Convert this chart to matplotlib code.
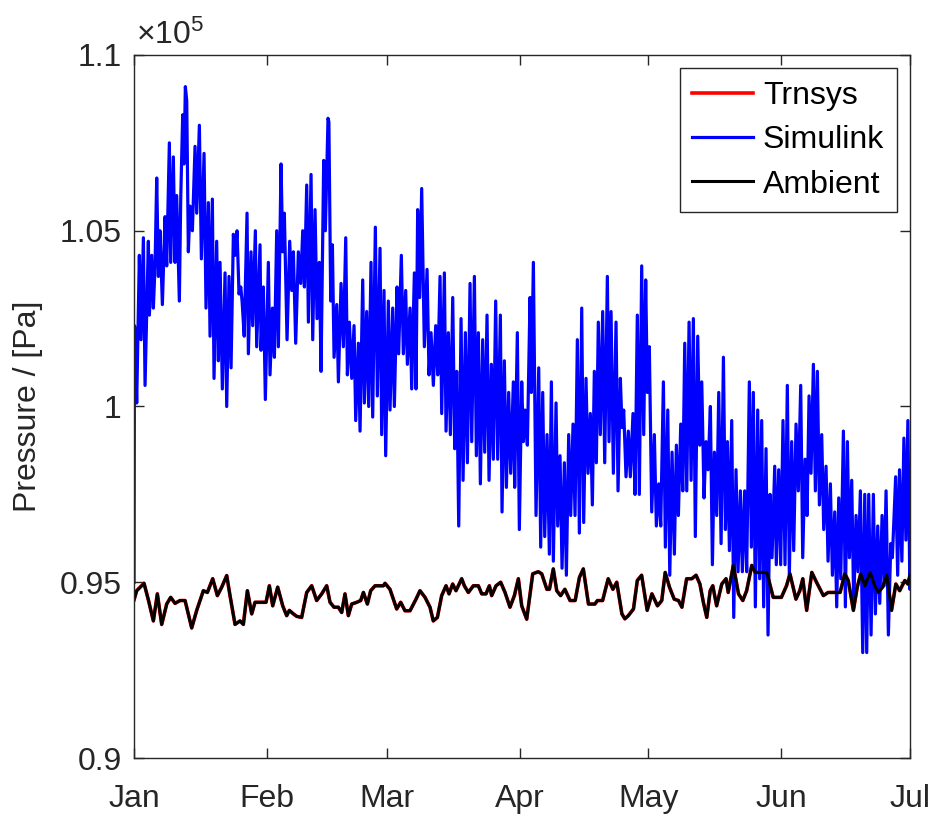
import matplotlib
matplotlib.use('Agg')
import matplotlib.pyplot as plt

plt.rcParams['font.family'] = ['Liberation Sans', 'DejaVu Sans']
plt.rcParams['mathtext.fontset'] = 'custom'
plt.rcParams['mathtext.rm'] = 'Liberation Sans'

# month ticks (day of year, 2019-like non-leap year)
month_days = [0, 31, 59, 90, 120, 151, 181]
month_names = ['Jan', 'Feb', 'Mar', 'Apr', 'May', 'Jun', 'Jul']
ytick_vals = [0.9e5, 0.95e5, 1.0e5, 1.05e5, 1.1e5]
ytick_labels = ['0.9', '0.95', '1', '1.05', '1.1']

# Simulink pressure, (day, pressure in 1e5 Pa)
simulink = [
    # January
    (0, 0.950), (0.1, 1.023), (0.23, 1.022), (0.62, 1.001), (1.24, 1.043), (1.63, 1.019),
    (2.18, 1.048), (2.57, 1.006), (3.34, 1.047), (3.58, 1.026), (4.12, 1.043), (4.51, 1.028),
    (4.90, 1.040), (5.29, 1.065), (5.68, 1.037), (6.06, 1.050), (6.61, 1.029), (7.23, 1.054),
    (7.62, 1.040), (8.24, 1.075), (8.55, 1.041), (9.17, 1.071), (9.56, 1.041), (9.95, 1.060),
    (10.57, 1.030), (10.89, 1.059), (11.35, 1.083), (11.66, 1.069), (11.97, 1.091), (12.29, 1.087),
    (12.67, 1.044), (13.06, 1.057), (13.61, 1.050), (14.23, 1.074), (14.62, 1.055), (15.24, 1.080),
    (15.71, 1.042), (16.33, 1.072), (16.79, 1.028), (17.34, 1.058), (17.73, 1.020), (18.27, 1.059),
    (18.66, 1.008), (19.28, 1.047), (19.67, 1.013), (20.06, 1.041), (20.60, 1.005), (21.23, 1.038),
    (21.62, 1.000), (22.16, 1.037), (22.63, 1.011), (23.17, 1.049), (23.56, 1.043), (24.03, 1.050),
    (24.49, 1.032), (24.9, 1.034), (25.2, 1.030), (25.7, 1.020), (26.36, 1.055), (26.67, 1.015),
    (27.29, 1.044), (27.68, 1.023), (28.30, 1.050), (28.61, 1.017), (29.39, 1.046), (29.62, 1.016),
    (30.17, 1.034), (30.63, 1.002),
    # February
    (31.33, 1.041), (31.72, 1.009), (32.27, 1.028), (32.74, 1.014), (33.28, 1.050), (33.67, 1.017),
    (34.29, 1.069), (34.68, 1.044), (35.06, 1.055), (35.69, 1.019), (36.31, 1.047), (36.78, 1.033),
    (37.17, 1.044), (37.71, 1.018), (38.33, 1.044), (38.88, 1.035), (39.35, 1.050), (39.74, 1.034),
    (40.28, 1.063), (40.67, 1.024), (41.29, 1.066), (41.68, 1.019), (42.22, 1.056), (42.69, 1.025),
    (43.23, 1.041), (43.62, 1.010), (44.24, 1.070), (44.63, 1.050), (45.25, 1.082), (45.45, 1.081),
    (45.88, 1.030), (46.27, 1.046), (46.66, 1.014), (47.28, 1.029), (47.67, 1.007), (48.29, 1.035),
    (48.83, 1.017), (49.38, 1.048), (49.77, 1.009), (50.23, 1.024), (50.78, 1.008), (51.32, 1.023),
    (51.71, 0.996), (52.33, 1.018), (52.72, 0.993), (53.34, 1.036), (53.73, 1.001), (54.27, 1.027),
    (54.74, 1.000), (55.28, 1.041), (55.67, 0.997), (56.29, 1.051), (56.76, 1.003), (57.38, 1.045),
    (57.77, 0.992), (58.31, 1.033), (58.70, 0.986),
    # March
    (59.32, 1.030), (59.71, 0.999), (60.34, 1.028), (60.72, 1.000), (61.35, 1.034), (61.73, 1.015),
    (62.35, 1.043), (62.82, 1.015), (63.37, 1.033), (63.76, 1.012), (64.38, 1.028), (64.77, 1.005),
    (65.39, 1.038), (65.78, 1.005), (66.16, 1.056), (66.63, 1.031), (67.1, 1.062), (67.72, 1.017),
    (68.35, 1.039), (68.81, 1.009), (69.28, 1.021), (69.82, 1.006), (70.37, 1.023), (70.84, 1.009),
    (71.38, 1.037), (71.77, 0.998), (72.39, 1.038), (72.78, 0.993), (73.32, 1.021), (73.79, 0.992),
    (74.34, 1.031), (74.80, 0.988), (75.27, 1.010), (75.74, 0.966), (76.28, 1.025), (76.75, 0.979),
    (77.29, 1.021), (77.76, 0.984), (78.38, 1.035), (78.77, 0.990), (79.39, 1.037), (79.85, 0.986),
    (80.32, 1.021), (80.79, 0.978), (81.33, 1.019), (81.80, 0.987), (82.34, 1.026), (82.81, 0.979),
    (83.35, 1.012), (83.81, 0.985), (84.36, 1.030), (84.83, 0.985), (85.45, 1.026), (85.84, 0.970),
    (86.38, 1.013), (86.85, 0.977), (87.39, 1.004), (87.86, 0.981), (88.48, 1.007), (88.79, 0.977),
    (89.41, 1.021), (89.88, 0.965),
    # April
    (90.43, 1.007), (90.81, 0.990), (91.2, 0.999), (91.75, 0.989), (92.37, 1.031), (92.68, 1.004),
    (93.15, 1.041), (93.77, 0.969), (94.40, 1.011), (94.86, 0.960), (95.33, 1.004), (95.80, 0.963),
    (96.34, 0.992), (96.88, 0.958), (97.35, 1.007), (97.81, 0.956), (98.44, 1.001), (98.83, 0.966),
    (99.37, 0.986), (99.84, 0.954), (100.38, 0.984), (100.85, 0.952), (101.39, 0.992), (101.86, 0.969),
    (102.40, 0.995), (102.87, 0.969), (103.41, 1.019), (103.88, 0.964), (104.43, 1.028), (104.89, 0.967),
    (105.43, 1.008), (105.90, 0.981), (106.44, 0.998), (106.91, 0.972), (107.37, 1.010), (107.84, 0.984),
    (108.30, 1.024), (108.77, 0.992), (109.32, 1.027), (109.79, 0.984), (110.41, 1.037), (110.80, 0.990),
    (111.27, 1.027), (111.81, 0.981), (112.43, 1.024), (112.90, 0.976), (113.44, 1.008), (113.83, 0.994),
    (114.22, 0.999), (114.76, 0.980), (115.30, 0.993), (115.77, 0.980), (116.39, 0.998), (116.86, 0.975),
    (117.40, 1.026), (117.87, 0.975), (118.42, 1.040), (118.89, 0.992), (119.35, 1.036), (119.74, 1.004),
    # May
    (120.2, 1.017), (120.76, 0.970), (121.37, 0.992), (121.84, 0.966), (122.39, 0.978), (122.86, 0.966),
    (123.48, 1.007), (123.94, 0.960), (124.50, 0.999), (124.97, 0.952), (125.50, 0.987), (126.04, 0.958),
    (126.51, 0.989), (126.98, 0.969), (127.53, 0.995), (128.0, 0.976), (128.46, 1.018), (128.93, 0.976),
    (129.47, 1.024), (129.94, 0.979), (130.47, 1.025), (130.93, 0.963), (131.49, 1.020), (131.96, 0.989),
    (132.43, 1.007), (132.96, 0.974), (133.43, 0.990), (133.9, 0.982), (134.44, 1.000), (134.91, 0.955),
    (135.38, 0.987), (135.92, 0.969), (136.39, 1.004), (136.94, 0.961), (137.48, 1.014), (137.95, 0.965),
    (138.41, 0.990), (138.88, 0.959), (139.42, 0.996), (139.89, 0.940), (140.42, 0.982), (140.89, 0.953),
    (141.44, 0.976), (141.90, 0.953), (142.44, 0.976), (142.91, 0.953), (143.53, 1.007), (144.0, 0.960),
    (144.46, 1.004), (144.93, 0.943), (145.48, 0.999), (145.94, 0.951), (146.41, 0.996), (146.87, 0.943),
    (147.42, 0.988), (147.89, 0.935), (148.35, 0.975), (148.82, 0.957), (149.45, 0.983), (149.82, 0.955),
    (150.38, 0.982), (150.84, 0.955),
    # June
    (151.38, 0.996), (151.85, 0.955), (152.39, 1.006), (152.86, 0.952), (153.41, 0.990), (153.88, 0.959),
    (154.42, 0.995), (154.95, 0.976), (155.51, 1.006), (155.98, 0.957), (156.52, 0.985), (156.99, 0.969),
    (157.46, 1.003), (157.92, 0.981), (158.47, 1.012), (158.93, 0.976), (159.40, 1.010), (159.87, 0.972),
    (160.41, 0.992), (160.88, 0.965), (161.42, 0.983), (161.89, 0.956), (162.43, 0.978), (162.90, 0.952),
    (163.45, 0.970), (163.91, 0.943), (164.38, 0.974), (164.85, 0.951), (165.47, 0.993), (165.93, 0.943),
    (166.40, 0.990), (166.87, 0.957), (167.41, 0.979), (167.88, 0.943), (168.42, 0.969), (168.89, 0.953),
    (169.43, 0.976), (169.98, 0.930), (170.45, 0.975), (170.91, 0.930), (171.38, 0.975), (171.92, 0.935),
    (172.46, 0.975), (172.93, 0.941), (173.48, 0.966), (173.95, 0.944), (174.49, 0.969), (174.96, 0.949),
    (175.42, 0.976), (175.96, 0.935), (176.52, 0.961), (176.89, 0.957), (177.66, 0.980), (178.13, 0.952),
    (178.56, 0.982), (179.11, 0.956), (179.58, 0.991), (180.05, 0.962), (180.51, 0.996), (180.98, 0.948),
    (181.0, 0.974),
]

# Ambient pressure (Trnsys output lies on top of it), (day, pressure in 1e5 Pa)
ambient = [
    (0, 0.945), (0.62, 0.9476), (2.33, 0.9497), (3.34, 0.945), (4.51, 0.939), (5.44, 0.9467),
    (6.45, 0.938), (7.62, 0.9438), (8.55, 0.9457), (9.56, 0.944), (10.73, 0.9448), (11.90, 0.9448),
    (13.45, 0.937), (14.62, 0.942), (16.17, 0.9476), (17.11, 0.9471), (18.35, 0.951), (19.44, 0.9462),
    (20.45, 0.9486), (21.62, 0.9519), (22.39, 0.9462), (23.56, 0.938), (24.72, 0.939), (25.50, 0.938),
    (26.44, 0.9476), (27.45, 0.941), (28.22, 0.9443), (29.78, 0.9443), (30.79, 0.9443), (31.57, 0.949),
    (32.35, 0.9433), (33.51, 0.9486), (34.68, 0.9433), (35.61, 0.9405), (36.23, 0.942), (37.17, 0.941),
    (37.95, 0.9403), (39.1, 0.940), (40.28, 0.9471), (41.44, 0.949), (42.6, 0.9448), (43.78, 0.9467),
    (44.94, 0.949), (45.72, 0.9443), (46.65, 0.9429), (47.66, 0.9429), (48.44, 0.9414), (49.21, 0.9467),
    (49.99, 0.9405), (50.77, 0.9438), (51.94, 0.9443), (52.87, 0.9448), (53.5, 0.9471), (54.43, 0.9438),
    (55.2, 0.9476), (56.22, 0.949), (58.16, 0.949), (58.55, 0.9497), (59.7, 0.948), (61.27, 0.9424),
    (62.2, 0.9443), (63.2, 0.9419), (64.38, 0.9419), (65.78, 0.9452), (66.7, 0.9476), (67.88, 0.9457),
    (69.04, 0.9429), (69.8, 0.939), (70.76, 0.940), (71.76, 0.9462), (72.78, 0.949), (73.48, 0.9467),
    (74.33, 0.9495), (75.1, 0.9476), (75.65, 0.949), (76.43, 0.951), (77.05, 0.949), (77.98, 0.9471),
    (79.15, 0.949), (80.32, 0.949), (81.1, 0.9467), (82.1, 0.9467), (82.89, 0.949), (83.43, 0.9462),
    (84.44, 0.949), (85.53, 0.950), (86.54, 0.9471), (87.7, 0.9429), (88.72, 0.9462), (89.65, 0.951),
    (90.43, 0.9433), (91.6, 0.9395), (93.0, 0.9524), (94.3, 0.953), (95.1, 0.9524), (96.3, 0.948),
    (96.9, 0.948), (97.8, 0.9538), (98.6, 0.9476), (99.5, 0.9462), (100.5, 0.948), (101.7, 0.9448),
    (102.9, 0.9448), (103.9, 0.9514), (104.8, 0.9538), (106.0, 0.9438), (107.5, 0.9438), (108.1, 0.9448),
    (109.3, 0.9448), (110.6, 0.951), (111.7, 0.948), (112.6, 0.950), (113.8, 0.941), (114.5, 0.9396),
    (115.3, 0.9405), (116.5, 0.9424), (117.4, 0.9505), (118.4, 0.952), (119.7, 0.942), (120.8, 0.9467),
    (122.1, 0.9433), (123.1, 0.9448), (123.9, 0.9528), (124.9, 0.9486), (126.0, 0.9452), (127.0, 0.9448),
    (127.8, 0.9429), (128.9, 0.951), (130.1, 0.951), (131.1, 0.952), (132.0, 0.9495), (132.8, 0.9443),
    (133.6, 0.940), (134.4, 0.9476), (135.0, 0.949), (135.9, 0.9433), (137.1, 0.9495), (138.1, 0.951),
    (138.6, 0.9471), (139.8, 0.9548), (141.0, 0.9467), (142.0, 0.9448), (142.9, 0.9476), (144.1, 0.9548),
    (144.9, 0.9528), (147.6, 0.9528), (149.1, 0.9457), (151.0, 0.9457), (152.2, 0.949), (153.0, 0.9524),
    (154.4, 0.9452), (155.3, 0.9476), (156.0, 0.951), (156.9, 0.942), (158.1, 0.9528), (159.2, 0.950),
    (160.8, 0.9462), (161.9, 0.9471), (164.7, 0.9471), (165.8, 0.9524), (166.6, 0.9505), (167.8, 0.942),
    (168.7, 0.9486), (169.5, 0.9524), (170.5, 0.949), (171.7, 0.9528), (172.8, 0.949), (173.6, 0.9471),
    (174.6, 0.9486), (175.6, 0.952), (176.7, 0.942), (177.7, 0.9495), (178.6, 0.9476), (179.8, 0.9505),
    (180.5, 0.9495), (181.0, 0.952),
]
trnsys = ambient  # identical to ambient at this scale

sim_day = [d for d, v in simulink]
sim_pa = [v * 1e5 for d, v in simulink]
amb_day = [d for d, v in ambient]
amb_pa = [v * 1e5 for d, v in ambient]
trn_day = [d for d, v in trnsys]
trn_pa = [v * 1e5 for d, v in trnsys]

dark = '#262626'

fig = plt.figure(figsize=(9.36, 8.17), dpi=100)
ax = fig.add_axes([0.1432, 0.0722, 0.8290, 0.8605])

ax.plot(trn_day, trn_pa, color='red', lw=2.6, label='Trnsys')
ax.plot(sim_day, sim_pa, color='blue', lw=2.3, label='Simulink')
ax.plot(amb_day, amb_pa, color='black', lw=2.2, label='Ambient')

ax.set_xlim(0, 181)
ax.set_ylim(0.9e5, 1.1e5)
ax.set_xticks(month_days)
ax.set_xticklabels(month_names)
ax.set_yticks(ytick_vals)
ax.set_yticklabels(ytick_labels)

ax.tick_params(direction='in', top=True, right=True, length=7, width=1,
               labelsize=23, colors=dark, labelcolor=dark)
ax.tick_params(axis='y', pad=9)
ax.tick_params(axis='x', pad=19)
for s in ax.spines.values():
    s.set_color(dark)
    s.set_linewidth(1.0)

ax.set_ylabel('Pressure / [Pa]', fontsize=23, color=dark, labelpad=12)
ax.text(0.003, 1.006, r'$\mathregular{\times10^{5}}$', transform=ax.transAxes,
        fontsize=23, color=dark, ha='left', va='bottom')

leg = ax.legend(loc='upper right', fontsize=23, fancybox=False, framealpha=1,
                edgecolor=dark, handlelength=1.9, labelspacing=0.45,
                borderpad=0.4, handletextpad=0.3, borderaxespad=0,
                bbox_to_anchor=(0.983, 0.9815))
leg.get_frame().set_linewidth(1.0)

fig.savefig('out.png', dpi=100)
